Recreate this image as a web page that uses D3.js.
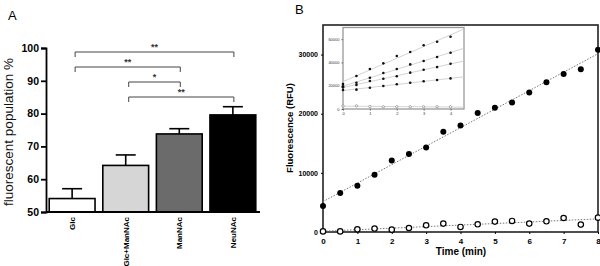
<!DOCTYPE html>
<html>
<head>
<meta charset="utf-8">
<script src="https://cdn.jsdelivr.net/npm/d3@7"></script>
<style>
    body { margin: 0; background: #fff; }
    svg text { font-family: "Liberation Sans", Arial, sans-serif; }
</style>
</head>
<body>
<div id="chart"></div>
<script>
"use strict";

//
/* Panel A data */
//
var barCategories = ["Glc", "Glc+ManNAc", "ManNAc", "NeuNAc"];
var barValues = [54.1, 64.2, 73.8, 79.6];
var barErrors = [3.0, 3.2, 1.6, 2.5];
var barColors = ["#ffffff", "#d6d6d6", "#6b6b6b", "#000000"];
var yTicksA = [50, 60, 70, 80, 90, 100];

// significance brackets, top to bottom
var sigFrom = ["Glc", "Glc", "Glc+ManNAc", "Glc+ManNAc"];
var sigTo = ["NeuNAc", "ManNAc", "ManNAc", "NeuNAc"];
var sigLabels = ["**", "**", "*", "**"];

//
/* Panel B data */
//
var times = [0, 0.5, 1, 1.5, 2, 2.5, 3, 3.5, 4, 4.5, 5, 5.5, 6, 6.5, 7, 7.5, 8];
var filledRFU = [4400, 6600, 7800, 9700, 12100, 13200, 14300, 16950, 18000, 20100, 21000, 21900, 23600, 25300, 26700, 27500, 30800];
var openRFU = [100, 100, 450, 580, 400, 680, 1130, 1420, 850, 1300, 1760, 1870, 1420, 1810, 2370, 1250, 2430];
var xTicksB = [0, 1, 2, 3, 4, 5, 6, 7, 8];
var yTicksB = [0, 10000, 20000, 30000];

// inset
var insetTimes = [0, 0.5, 1, 1.5, 2, 2.5, 3, 3.5, 4];
var insetSeries = [
    [21500, 28300, 34300, 39200, 45500, 48900, 54700, 57800, 62100],
    [19500, 22600, 26900, 30900, 34300, 38300, 41200, 44600, 48300],
    [18600, 20600, 24000, 26000, 28100, 31200, 33700, 36000, 38900],
    [16300, 16600, 18300, 19700, 21200, 22600, 23800, 24900, 26300]
];
var insetOpen = [2600, 2700, 2100, 1900, 1900, 1900, 1900, 1900, 1900];
var insetXTicks = [0, 1, 2, 3, 4];
var insetYTicks = [0, 20000, 40000, 60000];

var width = 600;
var height = 266;

var svg = d3.select("#chart").append("svg")
            .attr("width", width)
            .attr("height", height);

function linearFit(xs, ys)
{
    var mx = d3.mean(xs), my = d3.mean(ys);
    var num = 0, den = 0;
    for (var i = 0; i < xs.length; i++)
    {
        num += (xs[i] - mx) * (ys[i] - my);
        den += (xs[i] - mx) * (xs[i] - mx);
    }
    var slope = num / den;
    return { slope: slope, intercept: my - slope * mx };
}

var intFormat = d3.format("d");

//
/* Panel A */
//
var gA = svg.append("g");

var xA = d3.scaleBand()
            .domain(barCategories)
            .range([46, 259])
            .paddingInner(0.145)
            .paddingOuter(0.06);

var yA = d3.scaleLinear()
            .domain([50, 100])
            .range([212, 48]);

gA.append("text")
    .attr("x", 8)
    .attr("y", 20)
    .attr("font-size", "13px")
    .text("A");

gA.append("text")
    .attr("transform", "translate(12.5,132) rotate(-90)")
    .attr("text-anchor", "middle")
    .attr("font-size", "13.5px")
    .attr("fill", "#111")
    .text("fluorescent population %");

// bars
gA.selectAll(".bar")
    .data(barCategories)
    .enter()
    .append("rect")
    .attr("class", "bar")
    .attr("x", function(d) { return xA(d); })
    .attr("y", function(d, i) { return yA(barValues[i]); })
    .attr("width", xA.bandwidth())
    .attr("height", function(d, i) { return yA(50) - yA(barValues[i]); })
    .attr("fill", function(d, i) { return barColors[i]; })
    .attr("stroke", "#000")
    .attr("stroke-width", 1.6);

// error bars (upper only)
var errGroup = gA.selectAll(".err")
    .data(barCategories)
    .enter()
    .append("g")
    .attr("class", "err")
    .attr("stroke", "#000")
    .attr("stroke-width", 1.6);

errGroup.append("line")
    .attr("x1", function(d) { return xA(d) + xA.bandwidth() / 2; })
    .attr("x2", function(d) { return xA(d) + xA.bandwidth() / 2; })
    .attr("y1", function(d, i) { return yA(barValues[i]); })
    .attr("y2", function(d, i) { return yA(barValues[i] + barErrors[i]); });

errGroup.append("line")
    .attr("x1", function(d) { return xA(d) + xA.bandwidth() / 2 - 10; })
    .attr("x2", function(d) { return xA(d) + xA.bandwidth() / 2 + 10; })
    .attr("y1", function(d, i) { return yA(barValues[i] + barErrors[i]); })
    .attr("y2", function(d, i) { return yA(barValues[i] + barErrors[i]); });

// axes
var yAxisA = d3.axisLeft(yA).tickValues(yTicksA).tickSize(5).tickPadding(2);
var yAxisAG = gA.append("g")
    .attr("transform", "translate(46,0)")
    .call(yAxisA);
yAxisAG.select(".domain").attr("stroke-width", 1.8);
yAxisAG.selectAll(".tick line").attr("stroke-width", 1.8);
yAxisAG.selectAll("text")
    .attr("font-size", "10.5px")
    .attr("font-weight", "bold")
    .attr("fill", "#000");

gA.append("line")
    .attr("x1", 46).attr("x2", 260)
    .attr("y1", yA(50)).attr("y2", yA(50))
    .attr("stroke", "#000")
    .attr("stroke-width", 1.8);

// upright category labels: anchored at their start, placed by measured length
gA.selectAll(".xlabA")
    .data(barCategories)
    .enter()
    .append("text")
    .attr("class", "xlabA")
    .attr("font-size", "8px")
    .attr("font-weight", "bold")
    .attr("fill", "#000")
    .text(function(d) { return d; })
    .each(function(d)
    {
        var len = this.getComputedTextLength();
        var cx = xA(d) + xA.bandwidth() / 2 + 3;
        d3.select(this).attr("transform", "translate(" + cx + "," + (217 + len) + ") rotate(-90)");
    });

// significance brackets
sigLabels.forEach(function(lab, i)
{
    var x1 = xA(sigFrom[i]) + xA.bandwidth() / 2 + 3;
    var x2 = xA(sigTo[i]) + xA.bandwidth() / 2 + 1;
    var yb = 52 + i * 15;
    gA.append("path")
        .attr("d", "M" + x1 + "," + (yb + 5) + "V" + yb + "H" + x2 + "V" + (yb + 5))
        .attr("fill", "none")
        .attr("stroke", "#444")
        .attr("stroke-width", 1);
    gA.append("text")
        .attr("x", (x1 + x2) / 2)
        .attr("y", yb - 2)
        .attr("text-anchor", "middle")
        .attr("font-size", "9px")
        .attr("font-weight", "bold")
        .attr("fill", "#333")
        .text(lab);
});

//
/* Panel B */
//
var gB = svg.append("g");

var xB = d3.scaleLinear().domain([0, 8]).range([323, 598]);
var yB = d3.scaleLinear().domain([0, 35000]).range([232, 25]);

gB.append("text")
    .attr("x", 295)
    .attr("y", 14)
    .attr("font-size", "13px")
    .text("B");

gB.append("rect")
    .attr("x", 323).attr("y", 25)
    .attr("width", 275).attr("height", 207)
    .attr("fill", "none")
    .attr("stroke", "#222")
    .attr("stroke-width", 1.6);

var xAxisB = d3.axisBottom(xB).tickValues(xTicksB).tickFormat(intFormat).tickSize(2).tickPadding(4);
var xAxisBG = gB.append("g")
    .attr("transform", "translate(0,232)")
    .call(xAxisB);
xAxisBG.select(".domain").remove();
xAxisBG.selectAll("text")
    .attr("font-size", "8px")
    .attr("font-weight", "bold")
    .attr("fill", "#000");

var yAxisB = d3.axisLeft(yB).tickValues(yTicksB).tickFormat(intFormat).tickSize(2).tickPadding(3);
var yAxisBG = gB.append("g")
    .attr("transform", "translate(323,0)")
    .call(yAxisB);
yAxisBG.select(".domain").remove();
yAxisBG.selectAll("text")
    .attr("font-size", "7px")
    .attr("font-weight", "bold")
    .attr("fill", "#000");

gB.append("text")
    .attr("x", 461)
    .attr("y", 255)
    .attr("text-anchor", "middle")
    .attr("font-size", "10px")
    .attr("font-weight", "bold")
    .text("Time (min)");

gB.append("text")
    .attr("transform", "translate(293,128) rotate(-90)")
    .attr("text-anchor", "middle")
    .attr("font-size", "9.5px")
    .attr("font-weight", "bold")
    .text("Fluorescence (RFU)");

// regression lines
[filledRFU, openRFU].forEach(function(ys)
{
    var fit = linearFit(times, ys);
    gB.append("line")
        .attr("x1", xB(0)).attr("x2", xB(8))
        .attr("y1", yB(fit.intercept))
        .attr("y2", yB(fit.intercept + fit.slope * 8))
        .attr("stroke", "#777")
        .attr("stroke-width", 1)
        .attr("stroke-dasharray", "1.5,1.5");
});

gB.selectAll(".filled")
    .data(times)
    .enter()
    .append("circle")
    .attr("class", "filled")
    .attr("cx", function(d) { return xB(d); })
    .attr("cy", function(d, i) { return yB(filledRFU[i]); })
    .attr("r", 3)
    .attr("fill", "#000");

gB.selectAll(".open")
    .data(times)
    .enter()
    .append("circle")
    .attr("class", "open")
    .attr("cx", function(d) { return xB(d); })
    .attr("cy", function(d, i) { return yB(openRFU[i]); })
    .attr("r", 2.7)
    .attr("fill", "#fff")
    .attr("stroke", "#000")
    .attr("stroke-width", 1.2);

//
/* Inset */
//
var gI = gB.append("g");

var xI = d3.scaleLinear().domain([0, 4.5]).range([343, 464]);
var yI = d3.scaleLinear().domain([0, 70000]).range([109, 27.5]);

gI.append("rect")
    .attr("x", 343).attr("y", 27.5)
    .attr("width", 121).attr("height", 81.5)
    .attr("fill", "#fff")
    .attr("stroke", "#999")
    .attr("stroke-width", 1.3);

var xAxisI = d3.axisBottom(xI).tickValues(insetXTicks).tickFormat(intFormat).tickSize(1.5).tickPadding(2);
var xAxisIG = gI.append("g")
    .attr("transform", "translate(0,109)")
    .call(xAxisI);
xAxisIG.select(".domain").remove();
xAxisIG.selectAll("line").attr("stroke", "#666");
xAxisIG.selectAll("text")
    .attr("font-size", "4px")
    .attr("fill", "#333");

var yAxisI = d3.axisLeft(yI).tickValues(insetYTicks).tickFormat(intFormat).tickSize(1.5).tickPadding(2);
var yAxisIG = gI.append("g")
    .attr("transform", "translate(343,0)")
    .call(yAxisI);
yAxisIG.select(".domain").remove();
yAxisIG.selectAll("line").attr("stroke", "#666");
yAxisIG.selectAll("text")
    .attr("font-size", "4px")
    .attr("fill", "#333");

insetSeries.concat([insetOpen]).forEach(function(ys)
{
    var fit = linearFit(insetTimes, ys);
    gI.append("line")
        .attr("x1", xI(0)).attr("x2", xI(4.5))
        .attr("y1", yI(fit.intercept))
        .attr("y2", yI(fit.intercept + fit.slope * 4.5))
        .attr("stroke", "#c8c8c8")
        .attr("stroke-width", 0.8);
});

insetSeries.forEach(function(ys)
{
    gI.selectAll(null)
        .data(insetTimes)
        .enter()
        .append("circle")
        .attr("cx", function(d) { return xI(d); })
        .attr("cy", function(d, i) { return yI(ys[i]); })
        .attr("r", 1.3)
        .attr("fill", "#111");
});

gI.selectAll(".iopen")
    .data(insetTimes)
    .enter()
    .append("circle")
    .attr("class", "iopen")
    .attr("cx", function(d) { return xI(d); })
    .attr("cy", function(d, i) { return yI(insetOpen[i]); })
    .attr("r", 1.2)
    .attr("fill", "#fff")
    .attr("stroke", "#888")
    .attr("stroke-width", 0.7);
</script>
</body>
</html>
